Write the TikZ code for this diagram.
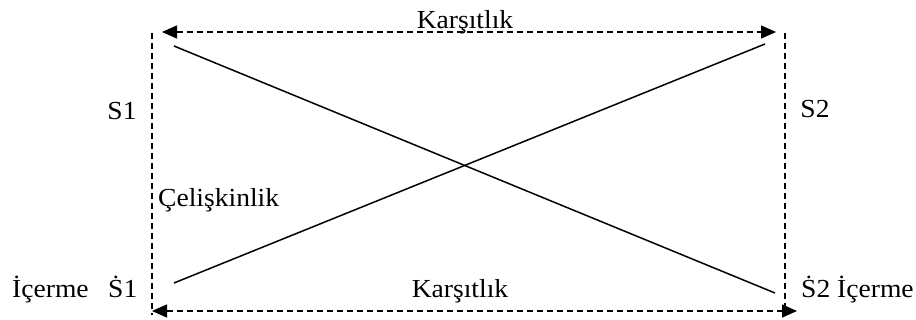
\documentclass[tikz,border=0pt]{standalone}
\usepackage{fontspec}
\setmainfont[FakeStretch=1.06]{Liberation Serif}
\usetikzlibrary{arrows.meta}
\begin{document}
\begin{tikzpicture}[x=1pt,y=-1pt,
  lbl/.style={inner sep=0pt,font=\fontsize{26}{30}\selectfont},
  dline/.style={line width=1.5pt,dash pattern=on 6pt off 4pt},
  sline/.style={line width=1.5pt},
  tip/.style={-{Triangle[length=15pt,width=13pt]}}]
\useasboundingbox (0,0) rectangle (916,320);
% corner coordinates
\coordinate (lt) at (152,33);
\coordinate (lb) at (152,315);
\coordinate (rt) at (785,33);
\coordinate (rb) at (785,316);
\coordinate (ta) at (162,32);
\coordinate (tb) at (776,32);
\coordinate (ba) at (152,311);
\coordinate (bb) at (797,311);
\coordinate (d1a) at (174,46);
\coordinate (d1b) at (775,293);
\coordinate (d2a) at (174,283);
\coordinate (d2b) at (765,44);
% dashed borders
\draw[dline] (lt) -- (lb);
\draw[dline] (rt) -- (rb);
\draw[dline,{Triangle[length=15pt,width=13pt]}-{Triangle[length=15pt,width=13pt]}] (ta) -- (tb);
\draw[dline,{Triangle[length=15pt,width=13pt]}-{Triangle[length=15pt,width=13pt]}] (ba) -- (bb);
% diagonals
\draw[sline] (d1a) -- (d1b);
\draw[sline] (d2a) -- (d2b);
% labels
\node[lbl,anchor=base] (k1) at (465,29) {Karşıtlık};
\node[lbl,anchor=base] (k2) at (460,298) {Karşıtlık};
\node[lbl,anchor=base] (s1) at (122,120) {S1};
\node[lbl,anchor=base] (s2) at (815,118) {S2};
\node[lbl,anchor=base west] (c) at (158,207) {Çelişkinlik};
\node[lbl,anchor=base west] (i1) at (12,298) {İçerme};
\node[lbl,anchor=base west] (sd1) at (108,298) {Ṡ1};
\node[lbl,anchor=base west] (sd2) at (801,298) {Ṡ2 İçerme};
\end{tikzpicture}
\end{document}
